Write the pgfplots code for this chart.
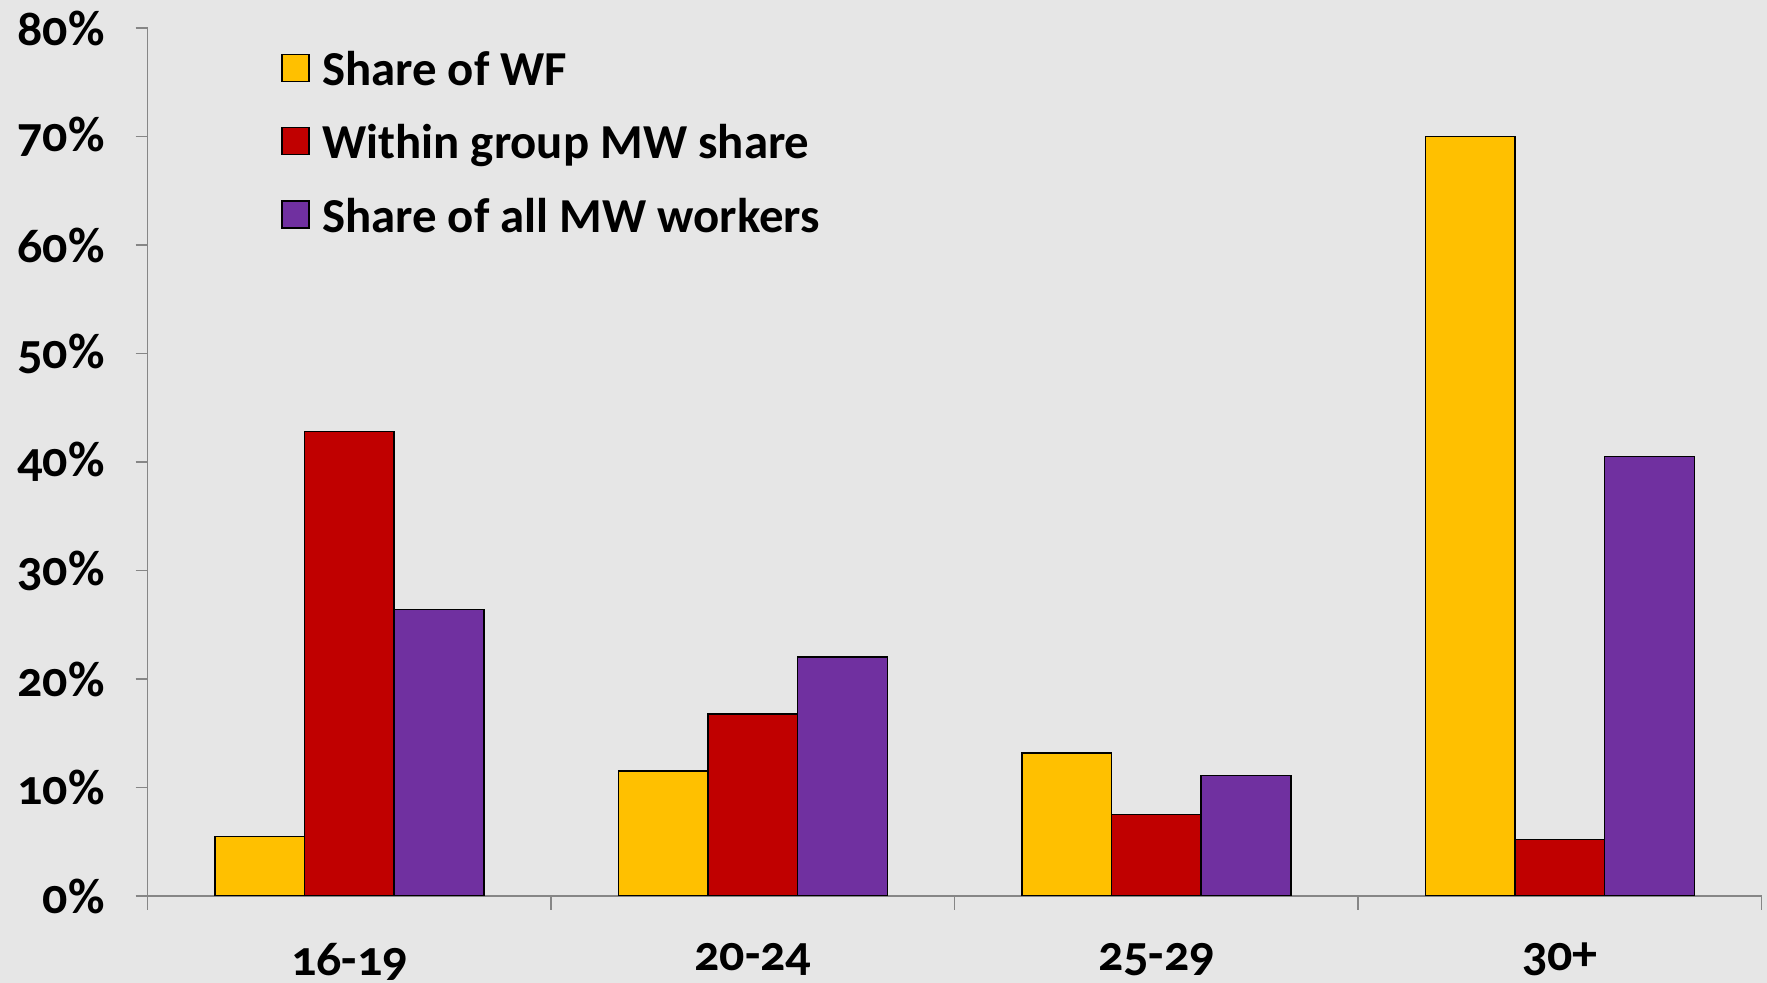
\documentclass[border=0pt]{standalone}
\usepackage{pgfplots}
\pgfplotsset{compat=1.18}
\usepackage{fontspec}
\setmainfont{Carlito}[Numbers=OldStyle]
\definecolor{bg}{HTML}{E6E6E6}
\definecolor{axgray}{HTML}{868686}
\definecolor{cyel}{HTML}{FFC000}
\definecolor{cred}{HTML}{C00000}
\definecolor{cpur}{HTML}{7030A0}
\begin{document}
\begin{tikzpicture}
\fill[bg] (-73.8pt,-43.5pt) rectangle (809.7pt,448pt);
\path[use as bounding box] (-73.8pt,-43.5pt) rectangle (809.7pt,448pt);
\begin{axis}[
  at={(0pt,0pt)}, anchor=south west,
  scale only axis, width=807pt, height=434pt,
  ybar=0pt, bar width=0.2222,
  xmin=-0.5, xmax=3.5, ymin=0, ymax=80,
  axis x line*=bottom, axis y line*=left,
  axis line style={draw=axgray, line width=0.7pt, -},
  tick align=outside,
  xtick={0,1,2,3}, xticklabels={16-19,20-24,25-29,30+},
  minor xtick={-0.5,0.5,1.5,2.5,3.5},
  major x tick style={draw=none},
  minor x tick style={draw=axgray, line width=0.7pt},
  minor tick length=7pt,
  ytick={0,10,...,80},
  yticklabels={0\%,10\%,20\%,30\%,40\%,50\%,60\%,70\%,80\%},
  major y tick style={draw=axgray, line width=0.7pt},
  major tick length=6pt,
  tick label style={font=\bfseries\fontsize{25}{28}\selectfont, black},
  yticklabel style={xshift=-12pt},
  xticklabel style={yshift=-14pt},
  legend style={at={(0.0827,0.978)}, anchor=north west, draw=none, fill=none,
    font=\bfseries\fontsize{24.4}{28}\selectfont, row sep=14pt,
    legend cell align=left, inner sep=0pt},
  legend image code/.code={\draw[#1,draw=black,line width=0.8pt] (0pt,-5.6pt) rectangle (13.5pt,7.9pt); \path[draw=none,fill=none] (18pt,0pt) circle (0pt);},
  every axis plot/.append style={draw=black, line width=0.8pt},
]
\addplot[fill=cyel] coordinates {(0,5.5) (1,11.5) (2,13.2) (3,70.0)};
\addplot[fill=cred] coordinates {(0,42.8) (1,16.8) (2,7.5) (3,5.2)};
\addplot[fill=cpur] coordinates {(0,26.4) (1,22.0) (2,11.1) (3,40.5)};
\legend{Share of WF,Within group MW share,Share of all MW workers}
\end{axis}
\end{tikzpicture}
\end{document}
